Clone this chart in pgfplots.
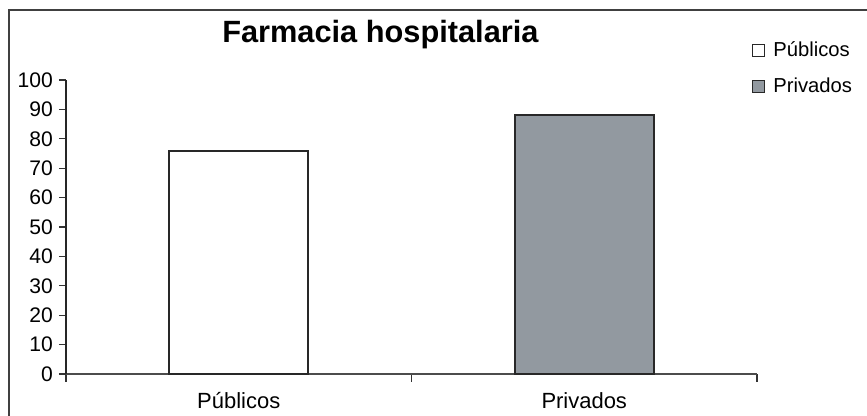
\documentclass[border=0pt]{standalone}
\usepackage{pgfplots}
\pgfplotsset{compat=1.18}
\usepackage{fontspec}
\setmainfont{Liberation Sans}
\definecolor{privgray}{RGB}{146,153,160}
\definecolor{edgecol}{RGB}{40,40,40}
\pgfplotsset{
  sqlegend/.style={legend image code/.code={
    \draw[##1, line width=0.7pt] (0cm,-0.12cm) rectangle (0.24cm,0.12cm);
    \path (0.33cm,0);}},
}
\begin{document}
\begin{tikzpicture}
\useasboundingbox (0,0) rectangle (17.34cm,8.32cm);
% outer frame (cropped at right and bottom)
\draw[line width=0.04cm, black!75] (0.18cm,0) -- (0.18cm,8.12cm) -- (17.34cm,8.12cm);
\begin{axis}[
  at={(1.32cm,0.84cm)}, anchor=south west,
  scale only axis, width=13.82cm, height=5.88cm,
  xmin=0, xmax=2, ymin=0, ymax=100,
  axis lines*=left,
  x axis line style={black!70, line width=0.6pt},
  y axis line style={black!85, line width=0.6pt},
  ytick={0,10,...,100},
  xtick={0.5,1.5}, xticklabels={Públicos,Privados},
  major x tick style={draw=none},
  minor xtick={0,1,2},
  tick align=outside,
  major tick length=0.14cm, minor tick length=0.16cm,
  tick style={black!80, line width=0.6pt},
  /pgf/number format/assume math mode=true,
  yticklabel style={font=\fontsize{12}{14}\selectfont},
  xticklabel style={font=\fontsize{12.5}{14}\selectfont, yshift=-0.1cm},
  ybar, bar width=2.78cm, bar shift=0pt,
  clip=false,
  legend style={at={(rel axis cs:0.992,1.143)}, anchor=north west,
    draw=none, fill=none, font=\fontsize{11.5}{14}\selectfont,
    row sep=0.23cm, inner sep=0pt},
  legend cell align=left,
]
\addplot[fill=white, draw=edgecol, line width=1.1pt, sqlegend] coordinates {(0.5,76)};
\addplot[fill=privgray, draw=edgecol, line width=1.1pt, sqlegend] coordinates {(1.5,88)};
\legend{Públicos, Privados}
\node[font=\bfseries\fontsize{17.5}{20}\selectfont, anchor=base] at (rel axis cs:0.455,1.126) {Farmacia hospitalaria};
\end{axis}
\end{tikzpicture}
\end{document}
